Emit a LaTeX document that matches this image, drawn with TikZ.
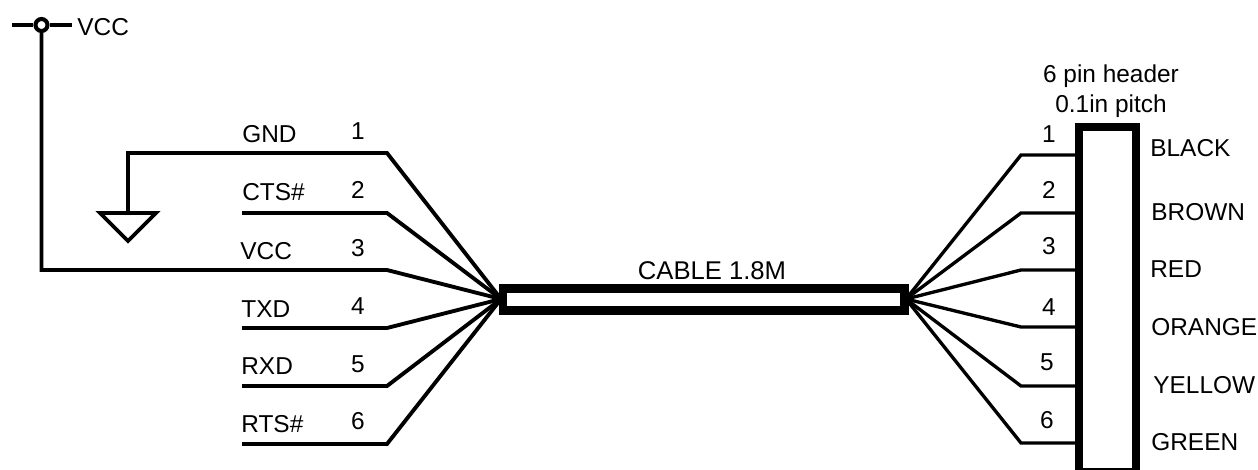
\documentclass[tikz,border=0pt]{standalone}
\usepackage{fontspec}
\setmainfont{Liberation Sans}
\begin{document}
\begin{tikzpicture}[x=0.02cm, y=-0.02cm, font=\fontsize{13.9}{17}\selectfont]
        \useasboundingbox (0,0) rectangle (1258,470);
            \tikzset{myshell/.style={rectangle, draw=black, line width=4.6pt, inner sep=0pt},
                mywire/.style={line width=2.2pt, line join=miter},
                mypin/.style={line width=1.9pt, line join=miter},
                mytext/.style={anchor=base west, inner sep=0pt},
                mynum/.style={anchor=base, inner sep=0pt}}

        \node[myshell, minimum width=8.04cm, minimum height=0.44cm] (C) at (703.5,299.5) {};
        \node[myshell, minimum width=1.14cm, minimum height=6.91cm] (H) at (1107.5,299.75) {};

        \coordinate (L) at (501,299);
        \coordinate (R) at (906,299);

        \coordinate (a1) at (242,153);
        \coordinate (a2) at (242,213);
        \coordinate (a4) at (242,328);
        \coordinate (a5) at (242,386);
        \coordinate (a6) at (242,444);

        \coordinate (b1) at (1077,155);
        \coordinate (b2) at (1077,213);
        \coordinate (b3) at (1077,270);
        \coordinate (b4) at (1077,327);
        \coordinate (b5) at (1077,386);
        \coordinate (b6) at (1077,443);

        \coordinate (P) at (72,25);
        \coordinate (Q) at (12,25);
        \node[circle, draw=black, fill=white, line width=2.3pt, minimum size=0.24cm, inner sep=0pt] (V) at (41.5,25) {};
        \coordinate (T) at (128,213);
        \coordinate (G1) at (100,213);
        \coordinate (G2) at (156,213);
        \coordinate (G3) at (128,241);

        \draw[mywire] (Q) to (V.west);
        \draw[mywire] (V.east) to (P);
        \draw[mywire] (V.south) |- (387,270) to (L);
        \draw[mywire] (a1) -- (128,153) -- (T);
        \draw[mywire] (G1) -- (G2) -- (G3) -- cycle;

        \draw[mywire] (a1) -- (387,153) -- (L);
        \draw[mywire] (a2) -- (387,213) -- (L);
        \draw[mywire] (a4) -- (387,328) -- (L);
        \draw[mywire] (a5) -- (387,386) -- (L);
        \draw[mywire] (a6) -- (387,444) -- (L);

        \draw[mypin] (b1) -- (1021,155) -- (R);
        \draw[mypin] (b2) -- (1021,213) -- (R);
        \draw[mypin] (b3) -- (1021,270) -- (R);
        \draw[mypin] (b4) -- (1021,327) -- (R);
        \draw[mypin] (b5) -- (1021,386) -- (R);
        \draw[mypin] (b6) -- (1021,443) -- (R);

        \node[mytext] (v0) at (77,35) {VCC};

        \node[mytext] (s1) at (242,142) {GND};
        \node[mytext] (s2) at (242,200) {CTS\#};
        \node[mytext] (s3) at (240,259) {VCC};
        \node[mytext] (s4) at (241,317) {TXD};
        \node[mytext] (s5) at (241,374) {RXD};
        \node[mytext] (s6) at (241,432) {RTS\#};

        \node[mynum] (n1) at (358,139) {1};
        \node[mynum] (n2) at (358,198) {2};
        \node[mynum] (n3) at (358,256) {3};
        \node[mynum] (n4) at (358,314) {4};
        \node[mynum] (n5) at (358,372) {5};
        \node[mynum] (n6) at (358,429) {6};

        \node[mynum] (m1) at (1049,142) {1};
        \node[mynum] (m2) at (1049,198) {2};
        \node[mynum] (m3) at (1049,254) {3};
        \node[mynum] (m4) at (1049,315) {4};
        \node[mynum] (m5) at (1047,370) {5};
        \node[mynum] (m6) at (1047,428) {6};

        \node[mytext] (w1) at (1150,156) {BLACK};
        \node[mytext] (w2) at (1151,220) {BROWN};
        \node[mytext] (w3) at (1150,277) {RED};
        \node[mytext] (w4) at (1151,335) {ORANGE};
        \node[mytext] (w5) at (1153,393) {YELLOW};
        \node[mytext] (w6) at (1151,450) {GREEN};

        \node[mynum, font=\fontsize{14.6}{17}\selectfont] (t1) at (712,279) {CABLE 1.8M};
        \node[mynum] (h1) at (1111,82) {6 pin header};
        \node[mynum] (h2) at (1111,112) {0.1in pitch};
\end{tikzpicture}
\end{document}
